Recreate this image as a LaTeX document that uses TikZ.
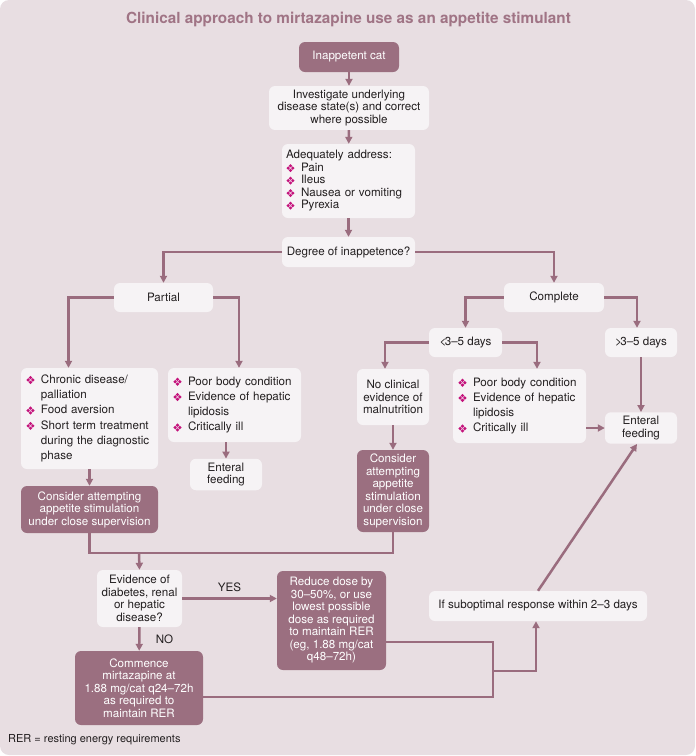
\documentclass[tikz,border=0pt]{standalone}
\usepackage{fontspec}
\setmainfont{TeX Gyre Heros}
\usepackage{xcolor}
\usepackage{tikz}
\usetikzlibrary{arrows.meta}
\definecolor{bgmauve}{RGB}{232,222,226}
\definecolor{boxlight}{RGB}{246,243,245}
\definecolor{boxdark}{RGB}{155,111,128}
\definecolor{linemauve}{RGB}{154,108,126}
\definecolor{titlemauve}{RGB}{160,116,133}
\definecolor{bulletpink}{RGB}{196,20,124}
\definecolor{textdark}{RGB}{35,31,32}
\newcommand{\flower}{\makebox[15pt][l]{\tikz[baseline=-0.55ex,x=1pt,y=1pt,sharp corners]{%
  \path (-4.5,0) -- (4,0);
  \foreach \a in {0,90,180,270}{\fill[bulletpink] (\a:2.3) circle (1.8);}
  \fill[bulletpink!30] (0,0) circle (0.9);}}}
\newcommand{\gap}{\hspace*{15pt}}

\begin{document}
\begin{tikzpicture}[x=1pt,y=-1pt,font=\fontsize{11.6}{12.5}\selectfont,
        base/.style={rounded corners=6pt,inner sep=4pt,text=textdark,align=center},
        light/.style={base,fill=boxlight},
        dark/.style={base,fill=boxdark,text=white},
        bullets/.style={light,align=left,inner xsep=5pt},
        loose/.style={font=\fontsize{11.6}{15.3}\selectfont},
        lab/.style={text=textdark},
        link/.style={draw=linemauve,line width=2.5pt},
        arr/.style={link,-{Triangle[length=7pt,width=7pt]}}]
      \useasboundingbox (0,0) rectangle (696,756);
      \fill[bgmauve,rounded corners=9pt] (0,0) rectangle (695,755);
      \node[font=\bfseries\fontsize{15.3}{18}\selectfont,text=titlemauve] (title) at (348.5,19)
        {Clinical approach to mirtazapine use as an appetite stimulant};
      \node[dark,minimum width=100pt,minimum height=30pt] (cat) at (349,57) {Inappetent cat};
      \node[light,minimum width=160pt,minimum height=40pt] (invest) at (349,108)
        {Investigate underlying\\disease state(s) and correct\\where possible};
      \node[bullets,inner xsep=4pt,text width=125pt,minimum height=74pt] (address) at (348.5,181)
        {Adequately address:\\\flower Pain\\\flower Ileus\\\flower Nausea or vomiting\\\flower Pyrexia};
      \node[light,minimum width=133pt,minimum height=30pt] (degree) at (348.5,252) {Degree of inappetence?};
      \node[light,minimum width=99pt,minimum height=29pt] (partial) at (163.5,297.5) {Partial};
      \node[light,minimum width=100pt,minimum height=29pt] (complete) at (554,297.5) {Complete};
      % partial branch
      \node[bullets,loose,text width=127pt,minimum height=101pt] (chronic) at (89.5,418.5)
        {\flower Chronic disease/\\\gap palliation\\\flower Food aversion\\\flower Short term treatment\\\gap during the diagnostic\\\gap phase};
      \node[bullets,loose,text width=123pt,minimum height=74pt] (poorL) at (234.5,405)
        {\flower Poor body condition\\\flower Evidence of hepatic\\\gap lipidosis\\\flower Critically ill};
      \node[light,minimum width=72pt,minimum height=29pt] (entL) at (226,474.5) {Enteral\\feeding};
      \node[dark,minimum width=137pt,minimum height=47pt] (considerL) at (89.5,509.5)
        {Consider attempting\\appetite stimulation\\under close supervision};
      % complete branch
      \node[light,minimum width=73pt,minimum height=29pt] (less) at (465.5,342.5) {<\kern-1.5pt3--5 days};
      \node[light,minimum width=72pt,minimum height=29pt] (more) at (641,342.5) {>\kern-1.5pt3--5 days};
      \node[light,minimum width=72pt,minimum height=56pt] (noclin) at (393,397)
        {No clinical\\evidence of\\malnutrition};
      \node[bullets,loose,text width=123pt,minimum height=74pt] (poorR) at (519.5,406)
        {\flower Poor body condition\\\flower Evidence of hepatic\\\gap lipidosis\\\flower Critically ill};
      \node[light,minimum width=72pt,minimum height=30pt] (entR) at (641,428) {Enteral\\feeding};
      \node[dark,minimum width=72pt,minimum height=82pt] (considerM) at (393,491)
        {Consider\\attempting\\appetite\\stimulation\\under close\\supervision};
      % dosing
      \node[light,minimum width=85pt,minimum height=57pt] (evid) at (139.5,598.5)
        {Evidence of\\diabetes, renal\\or hepatic\\disease?};
      \node[dark,minimum width=109pt,minimum height=99pt] (reduce) at (331.5,620.5)
        {Reduce dose by\\30--50\%, or use\\lowest possible\\dose as required\\to maintain RER\\(eg, 1.88 mg/cat\\q48--72h)};
      \node[dark,minimum width=128pt,minimum height=74pt] (commence) at (139,688)
        {Commence\\mirtazapine at\\1.88 mg/cat q24--72h\\as required to\\maintain RER};
      \node[light,minimum width=218pt,minimum height=30pt] (subopt) at (538,606)
        {If suboptimal response within 2--3 days};
      \node[anchor=west,inner sep=0pt,font=\fontsize{11}{13}\selectfont,text=textdark] (note) at (8,740)
        {RER = resting energy requirements};

      \draw[arr] (cat) -- (invest);
      \draw[arr] (invest) -- (address);
      \draw[arr] (address) -- (degree);
      \draw[arr] (degree.west) -| (partial.north);
      \draw[arr] (degree.east) -| (complete.north);
      \draw[arr] (partial.west) -| ([xshift=-21pt]chronic.north);
      \draw[arr] (partial.east) -| ([xshift=4.5pt]poorL.north);
      \draw[arr] (poorL.south -| entL.north) -- (entL.north);
      \draw[arr] (chronic) -- (considerL);
      \draw[arr] (complete.west) -| (less.north);
      \draw[arr] (complete.east) -| ([xshift=-4pt]more.north);
      \draw[arr] (less.west) -| ([xshift=-8pt]noclin.north);
      \draw[arr] (less.east) -| ([xshift=17.5pt]poorR.north);
      \draw[arr] (more) -- (entR);
      \draw[arr] (poorR.east |- entR.west) -- (entR.west);
      \draw[arr] (noclin) -- (considerM);
      \coordinate (merge) at (139,553);
      \draw[link] (considerL.south) |- (merge) -| (considerM.south);
      \draw[arr] (merge) -- (evid.north);
      \draw[arr] (evid.east) -- (evid.east -| reduce.west) node[lab,midway,above=2pt] {YES};
      \draw[arr] (evid) -- (commence) node[lab,midway,right=12pt] {NO};
      \coordinate (bend) at (493,671);
      \draw[link] ([yshift=-21.5pt]reduce.east) -| (bend);
      \draw[link] ([yshift=-9pt]commence.east) -| (bend);
      \draw[arr] (bend) -| ([xshift=-2pt]subopt.south);
      \draw[arr] (subopt.north) -- ([xshift=-4pt]entR.south);
    \end{tikzpicture}
\end{document}
